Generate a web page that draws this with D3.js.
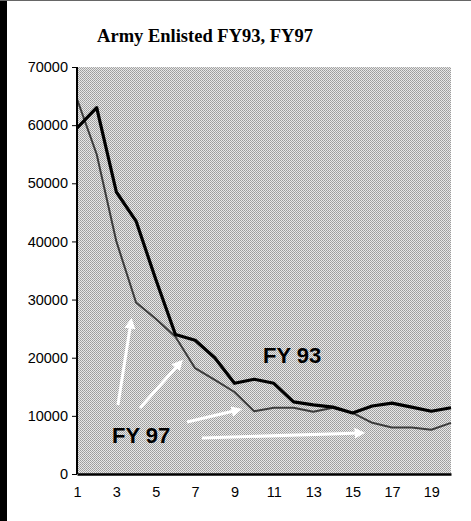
<!DOCTYPE html>
<html>
<head>
<meta charset="utf-8">
<script src="https://cdn.jsdelivr.net/npm/d3@7"></script>
<style>
    body { margin: 0; background: #fff; }
    svg { display: block; }
</style>
</head>
<body>
<div id="display"></div>
<script>
// data
var years = [1, 2, 3, 4, 5, 6, 7, 8, 9, 10, 11, 12, 13, 14, 15, 16, 17, 18, 19, 20];
var fy93 = [59500, 63000, 48500, 43500, 33500, 24000, 23000, 20000, 15600, 16300,
            15600, 12400, 11900, 11500, 10500, 11700, 12200, 11500, 10800, 11400];
var fy97 = [64500, 55000, 40000, 29500, 26700, 23600, 18200, 16200, 14100, 10800,
            11400, 11400, 10700, 11400, 10500, 8800, 8000, 8000, 7600, 8800];
var yTicks = [0, 10000, 20000, 30000, 40000, 50000, 60000, 70000];
var xTicks = [1, 3, 5, 7, 9, 11, 13, 15, 17, 19];

// annotation labels and arrows, in data units
var labels = [
    { text: 'FY 93', x: 10.45, y: 19100 },
    { text: 'FY 97', x: 2.78, y: 5330 }
];
var arrows = [
    { x1: 3.08, y1: 11870, x2: 3.74, y2: 26140 },
    { x1: 4.2, y1: 11350, x2: 6.23, y2: 19100 },
    { x1: 6.59, y1: 8940, x2: 9.18, y2: 11000 },
    { x1: 7.35, y1: 6190, x2: 15.43, y2: 7050 }
];

var svgWidth = 471;
var svgHeight = 521;

var svg = d3.select('#display').append('svg')
    .attr('width', svgWidth)
    .attr('height', svgHeight);

// page edges of the scanned figure
svg.append('rect').attr('x', 0).attr('y', 0).attr('width', 7).attr('height', svgHeight).attr('fill', '#000');
svg.append('line').attr('x1', 0).attr('x2', svgWidth).attr('y1', 0.5).attr('y2', 0.5)
    .attr('stroke', '#666').attr('stroke-width', 1);

var x = d3.scaleLinear().domain([1, 20]).range([77, 451]);
var y = d3.scaleLinear().domain([0, 70000]).range([474, 67]);

// dithered grey plot area
var defs = svg.append('defs');
var pat = defs.append('pattern').attr('id', 'dither')
    .attr('patternUnits', 'userSpaceOnUse').attr('width', 2).attr('height', 2);
pat.append('rect').attr('width', 2).attr('height', 2).attr('fill', '#e8e8e8');
pat.append('rect').attr('width', 1).attr('height', 1).attr('fill', '#9c9c9c');
pat.append('rect').attr('x', 1).attr('y', 1).attr('width', 1).attr('height', 1).attr('fill', '#a8a8a8');

defs.append('marker').attr('id', 'head')
    .attr('viewBox', '0 0 10 10').attr('refX', 6).attr('refY', 5)
    .attr('markerWidth', 3.6).attr('markerHeight', 3.6)
    .attr('orient', 'auto')
    .append('path').attr('d', 'M0,0L10,5L0,10z').attr('fill', '#fff');

svg.append('rect')
    .attr('x', x(1)).attr('y', y(70000))
    .attr('width', x(20) - x(1)).attr('height', y(0) - y(70000))
    .attr('fill', 'url(#dither)');

// title
svg.append('text')
    .attr('x', 205).attr('y', 42)
    .attr('text-anchor', 'middle')
    .style('font-family', '"Liberation Serif", "Times New Roman", serif')
    .style('font-weight', 'bold')
    .style('font-size', '18.5px')
    .text('Army Enlisted FY93, FY97');

// white arrows
svg.selectAll('line.arrow')
    .data(arrows)
    .enter()
    .append('line')
    .attr('class', 'arrow')
    .attr('x1', function(d) { return x(d.x1); })
    .attr('y1', function(d) { return y(d.y1); })
    .attr('x2', function(d) { return x(d.x2); })
    .attr('y2', function(d) { return y(d.y2); })
    .attr('stroke', '#fff')
    .attr('stroke-width', 3)
    .attr('marker-end', 'url(#head)');

// lines
var line = d3.line()
    .x(function(d, i) { return x(years[i]); })
    .y(function(d) { return y(d); });

svg.append('path').datum(fy97)
    .attr('d', line)
    .attr('fill', 'none')
    .attr('stroke', '#3c3c3c')
    .attr('stroke-width', 2)
    .attr('stroke-linejoin', 'round');

svg.append('path').datum(fy93)
    .attr('d', line)
    .attr('fill', 'none')
    .attr('stroke', '#000')
    .attr('stroke-width', 3.2)
    .attr('stroke-linejoin', 'round');

// series labels
svg.selectAll('text.series')
    .data(labels)
    .enter()
    .append('text')
    .attr('class', 'series')
    .attr('x', function(d) { return x(d.x); })
    .attr('y', function(d) { return y(d.y); })
    .style('font-family', '"Liberation Sans", Arial, sans-serif')
    .style('font-weight', 'bold')
    .style('font-size', '22px')
    .text(function(d) { return d.text; });

// axes
var yAxis = d3.axisLeft(y).tickValues(yTicks).tickSize(5).tickPadding(4).tickFormat(d3.format('d'));
var gy = svg.append('g').attr('transform', 'translate(' + x(1) + ',0)').call(yAxis);
gy.select('.domain').attr('stroke-width', 2).attr('d', 'M0,' + y(70000) + 'V' + y(0));

var xAxis = d3.axisBottom(x).tickValues(xTicks).tickSize(0).tickPadding(13).tickFormat(d3.format('d'));
var gx = svg.append('g').attr('transform', 'translate(0,' + y(0) + ')').call(xAxis);
gx.select('.domain').attr('stroke-width', 2.5);

svg.selectAll('.tick text')
    .style('font-family', '"Liberation Sans", Arial, sans-serif')
    .style('font-size', '14.5px')
    .attr('fill', '#000');
svg.selectAll('.tick line').attr('stroke', '#000');
</script>
</body>
</html>
